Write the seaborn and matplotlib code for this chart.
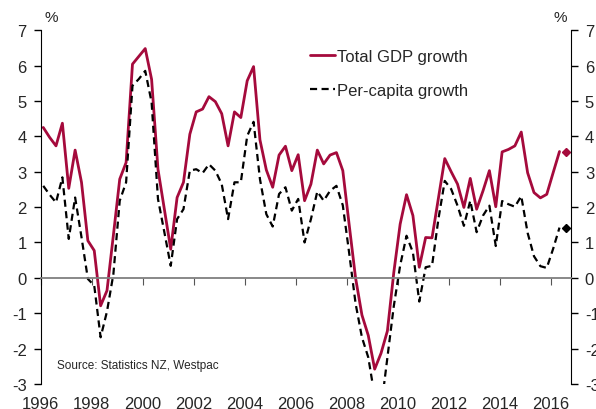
import numpy as np
import pandas as pd
import matplotlib
matplotlib.use('Agg')
import matplotlib.pyplot as plt
import seaborn as sns

# Annual average growth, quarterly, 1996 Q1 - 2016 Q2 (%)
total_gdp = [4.25, 3.97, 3.73, 4.37, 2.53, 3.61, 2.70, 1.05, 0.77, -0.79,
             -0.36, 1.20, 2.79, 3.26, 6.04, 6.26, 6.48, 5.61, 3.07, 1.94,
             0.81, 2.27, 2.70, 4.06, 4.69, 4.77, 5.12, 4.98, 4.64, 3.73,
             4.69, 4.53, 5.57, 5.97, 3.90, 3.05, 2.56, 3.47, 3.72, 3.03,
             3.48, 2.18, 2.65, 3.61, 3.22, 3.47, 3.54, 3.03, 1.50, 0.00,
             -1.05, -1.63, -2.58, -2.13, -1.50, 0.15, 1.52, 2.35, 1.76, 0.30,
             1.14, 1.13, 2.25, 3.37, 3.00, 2.65, 1.99, 2.81, 1.94, 2.46,
             3.03, 2.01, 3.56, 3.63, 3.73, 4.12, 2.97, 2.41, 2.26, 2.36,
             2.97, 3.57]
per_capita = [2.60, 2.35, 2.13, 2.84, 1.10, 2.27, 1.15, -0.03, -0.22, -1.68,
              -0.95, 0.10, 2.18, 2.70, 5.43, 5.62, 5.85, 4.96, 2.23, 1.29,
              0.34, 1.66, 1.94, 3.03, 3.07, 2.96, 3.21, 3.03, 2.65, 1.66,
              2.70, 2.70, 4.01, 4.41, 2.79, 1.80, 1.45, 2.37, 2.56, 1.90,
              2.23, 1.00, 1.66, 2.44, 2.18, 2.46, 2.60, 2.05, 0.70, -0.72,
              -1.68, -2.25, -3.35, -3.70, -2.25, -0.80, 0.35, 1.19, 0.72, -0.67,
              0.30, 0.34, 1.66, 2.74, 2.51, 2.04, 1.47, 2.18, 1.29, 1.76,
              2.04, 0.90, 2.17, 2.08, 2.01, 2.31, 1.27, 0.61, 0.33, 0.28,
              0.82, 1.42]
quarters = 1996.1 + 0.25 * np.arange(len(total_gdp))

# latest markers shown at the right edge
latest_x = [2016.62]
latest_total = [3.57]
latest_capita = [1.42]

year_ticks = list(range(1996, 2017, 2))
y_ticks = list(range(-3, 8))

RED = '#a50a3c'

df = pd.DataFrame({'date': quarters, 'total': total_gdp, 'capita': per_capita})

sns.set_style('ticks')
plt.rcParams['font.family'] = ['Liberation Sans', 'DejaVu Sans']
plt.rcParams['axes.unicode_minus'] = False

fig = plt.figure(figsize=(5.96, 4.10), dpi=100)
ax = fig.add_axes([0.0683, 0.061, 0.8897, 0.863])

sns.lineplot(data=df, x='date', y='total', ax=ax, color=RED, lw=2.0,
             label='Total GDP growth')
sns.lineplot(data=df, x='date', y='capita', ax=ax, color='black', lw=1.6,
             linestyle=(0, (3.2, 2.0)), label='Per-capita growth')
ax.plot(latest_x, latest_total, marker='D', ms=4.5, color=RED, ls='none', clip_on=False)
ax.plot(latest_x, latest_capita, marker='D', ms=4.5, color='black', ls='none', clip_on=False)

ax.set_xlim(1996, 2016.8)
ax.set_ylim(-3, 7)
ax.set_xlabel('')
ax.set_ylabel('')

# zero line acts as x axis, labels along the bottom
ax.spines['top'].set_visible(False)
ax.spines['bottom'].set_position(('data', 0))
ax.spines['bottom'].set_color('#7f7f7f')
ax.spines['bottom'].set_linewidth(1.3)
ax.spines['left'].set_color('black')
ax.spines['right'].set_visible(True)
ax.spines['right'].set_color('black')
ax.set_xticks(year_ticks)
ax.tick_params(axis='x', direction='out', length=5, color='#555555', labelbottom=False)
ax.set_yticks(y_ticks)
ax.tick_params(axis='y', direction='out', length=5, width=1, color='black',
               labelsize=12, left=True, right=True, labelleft=True, labelright=True, pad=5)

sec = ax.secondary_xaxis(0)
sec.set_xticks(year_ticks)
sec.tick_params(length=0, labelsize=12, pad=9)
sec.spines['bottom'].set_visible(False)

ax.text(0.008, 1.018, '%', transform=ax.transAxes, fontsize=11, ha='left', va='bottom')
ax.text(0.992, 1.018, '%', transform=ax.transAxes, fontsize=11, ha='right', va='bottom')
ax.text(0.03, 0.045, 'Source: Statistics NZ, Westpac', transform=ax.transAxes, fontsize=8.5)

ax.legend(loc='upper left', bbox_to_anchor=(0.507, 0.948), frameon=False, fontsize=12,
          handlelength=1.55, handletextpad=0.1, labelspacing=1.15, borderaxespad=0,
          borderpad=0)

fig.savefig('out.png', dpi=100)
